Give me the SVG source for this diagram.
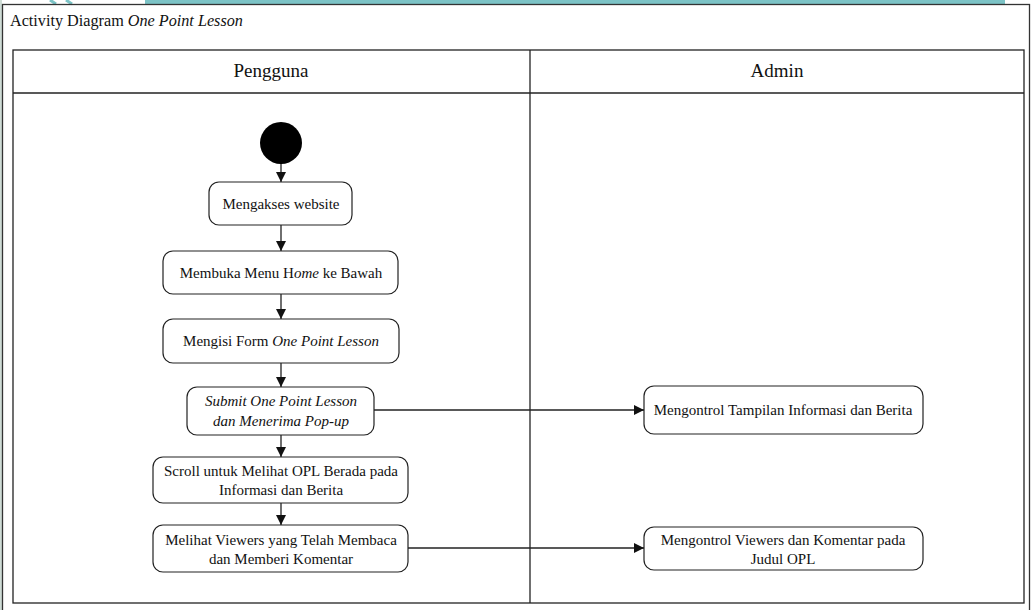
<svg xmlns="http://www.w3.org/2000/svg" width="1032" height="610" viewBox="0 0 1032 610">
<style>
  text { font-family: "Liberation Serif", "Times New Roman", serif; fill: #111; }
  .lbl { font-size: 15px; text-anchor: middle; }
  .hdr { font-size: 19px; text-anchor: middle; }
  .box { fill: #fff; stroke: #222; stroke-width: 1.2; }
  .lane { fill: none; stroke: #222; stroke-width: 1.3; }
  .edge { fill: none; stroke: #222; stroke-width: 1.3; }
  .it { font-style: italic; }
</style>
<defs>
  <marker id="arr" viewBox="0 0 10 10" refX="10" refY="5" markerWidth="10" markerHeight="10" markerUnits="userSpaceOnUse" orient="auto">
    <path d="M0,0 L10,5 L0,10 Z" fill="#111"/>
  </marker>
</defs>
<rect x="0" y="0" width="1032" height="610" fill="#fff"/>
<rect x="145" y="0" width="860" height="4" fill="#7cc3c6"/>
<path d="M50,0 L56,4 M66,0 L72,4" stroke="#7cc3c6" stroke-width="3"/>
<rect x="0" y="0" width="2" height="610" fill="#cfdcd6"/>
<rect x="2.5" y="4.5" width="1027" height="610" fill="none" stroke="#333" stroke-width="1.3"/>
<text x="10" y="26" style="font-size:16.2px">Activity Diagram <tspan class="it">One Point Lesson</tspan></text>

<g id="lanes">
  <rect class="lane" x="13" y="50" width="1011" height="553"/>
  <line class="lane" x1="13" y1="93" x2="1024" y2="93"/>
  <line class="lane" x1="530" y1="50" x2="530" y2="603"/>
  <text class="hdr" x="271" y="77">Pengguna</text>
  <text class="hdr" x="777" y="77">Admin</text>
</g>

<g id="start"><circle cx="281" cy="143" r="21" fill="#000"/></g>

<g id="n1"><rect class="box" x="209" y="182" width="143" height="43" rx="10"/><text class="lbl" x="281" y="209">Mengakses website</text></g>
<g id="n2"><rect class="box" x="163" y="251" width="235" height="43" rx="10"/><text class="lbl" x="281" y="278">Membuka Menu H<tspan class="it">ome</tspan> ke Bawah</text></g>
<g id="n3"><rect class="box" x="163" y="319" width="236" height="44" rx="10"/><text class="lbl" x="281" y="346">Mengisi Form <tspan class="it">One Point Lesson</tspan></text></g>
<g id="n4"><rect class="box" x="187" y="387" width="187" height="48" rx="10"/><text class="lbl it" x="281" y="406">Submit One Point Lesson</text><text class="lbl it" x="281" y="426">dan Menerima Pop-up</text></g>
<g id="n5"><rect class="box" x="153" y="457" width="255" height="46" rx="10"/><text class="lbl" x="281" y="476">Scroll untuk Melihat OPL Berada pada</text><text class="lbl" x="281" y="495">Informasi dan Berita</text></g>
<g id="n6"><rect class="box" x="153" y="525" width="255" height="47" rx="10"/><text class="lbl" x="281" y="545">Melihat Viewers yang Telah Membaca</text><text class="lbl" x="281" y="564">dan Memberi Komentar</text></g>
<g id="a1"><rect class="box" x="644" y="386" width="279" height="48" rx="10"/><text class="lbl" x="783" y="415">Mengontrol Tampilan Informasi dan Berita</text></g>
<g id="a2"><rect class="box" x="644" y="527" width="279" height="43" rx="10"/><text class="lbl" x="783" y="545">Mengontrol Viewers dan Komentar pada</text><text class="lbl" x="783" y="564">Judul OPL</text></g>

<g id="connectors">
  <line class="edge" x1="281" y1="164" x2="281" y2="182" marker-end="url(#arr)"/>
  <line class="edge" x1="281" y1="225" x2="281" y2="251" marker-end="url(#arr)"/>
  <line class="edge" x1="281" y1="294" x2="281" y2="319" marker-end="url(#arr)"/>
  <line class="edge" x1="281" y1="363" x2="281" y2="387" marker-end="url(#arr)"/>
  <line class="edge" x1="281" y1="435" x2="281" y2="457" marker-end="url(#arr)"/>
  <line class="edge" x1="281" y1="503" x2="281" y2="525" marker-end="url(#arr)"/>
  <line class="edge" x1="374" y1="410" x2="644" y2="410" marker-end="url(#arr)"/>
  <line class="edge" x1="408" y1="548" x2="644" y2="548" marker-end="url(#arr)"/>
</g>
</svg>
